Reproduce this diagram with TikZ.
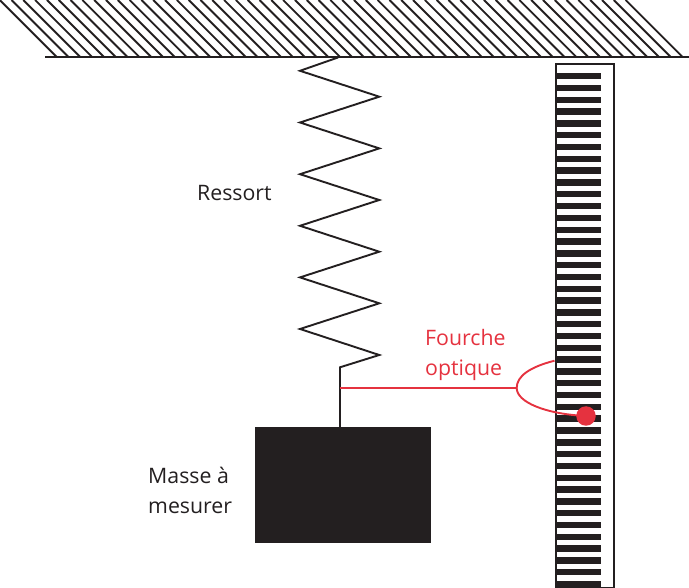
\documentclass[tikz,border=0pt]{standalone}
\usepackage{fontspec}
\setmainfont{Open Sans}
\definecolor{ink}{HTML}{231F20}
\definecolor{redfork}{HTML}{E5323F}
\tikzset{
  inkline/.style={draw=ink,line width=1.9pt,line join=miter},
  hatchline/.style={draw=ink,line width=1.9pt},
  forkline/.style={draw=redfork,line width=1.9pt},
  barshape/.style={fill=ink,draw=none},
  lbl/.style={font=\fontsize{21.3}{30.5}\selectfont,text=ink,inner sep=0pt,align=left},
  forklbl/.style={lbl,text=redfork}
}
\begin{document}
\begin{tikzpicture}[x=1pt,y=-1pt]
\useasboundingbox (0,0) rectangle (689,588);
% hatching
\begin{scope}
\clip (0,0) rectangle (689,57);
\foreach \i in {0,...,53} {
  \pgfmathsetmacro{\xe}{56.7+\i*11.81}
  \draw[hatchline] (\xe-57,0) -- (\xe,57);
}
\end{scope}
\draw[draw=ink,line width=2.2pt] (45,57.3) -- (689,57.3);
% mass
\node[fill=ink,draw=none,minimum width=176pt,minimum height=116pt,inner sep=0pt,anchor=north west] (mass) at (255,427) {};
% scale
\foreach \i in {0,...,43} {
  \fill[barshape] (555,{73+\i*11.81}) rectangle (601,{79.4+\i*11.81});
}
\node[draw=ink,line width=2pt,minimum width=58pt,minimum height=523pt,inner sep=0pt,anchor=north west] (scale) at (555,63.5) {};
% spring
\coordinate (top) at (338,57.5);
\coordinate (hook) at (340,367.3);
\coordinate (join) at (340,388);
\draw[inkline] (top) -- (300,70.8)
  -- (379.3,96.7) -- (300,122.5) -- (379.3,148.4) -- (300,174.2)
  -- (379.3,200) -- (300,225.8) -- (379.3,251.7) -- (300,277.4)
  -- (379.3,303.3) -- (300,329) -- (379.3,355) -- (hook) -- (hook |- mass.north);
% fork
\node[circle,fill=redfork,draw=none,minimum size=19.5pt,inner sep=0pt] (dot) at (586,416) {};
\coordinate (forkv) at (516.7,388);
\coordinate (forkt) at (554.5,360.7);
\draw[forkline] (join) -- (forkv);
\draw[forkline] (forkt) .. controls (530,367) and (516.7,376) .. (forkv)
  .. controls (516.7,402) and (545,414) .. (dot.center);
% labels
\node[lbl,anchor=base west] (ressort) at (197,201) {Ressort};
\node[lbl,anchor=base west] (masse) at (148,513.5) {Masse à\\mesurer};
\node[forklbl,anchor=base west] (fourche) at (425,376) {Fourche\\optique};
\end{tikzpicture}
\end{document}
